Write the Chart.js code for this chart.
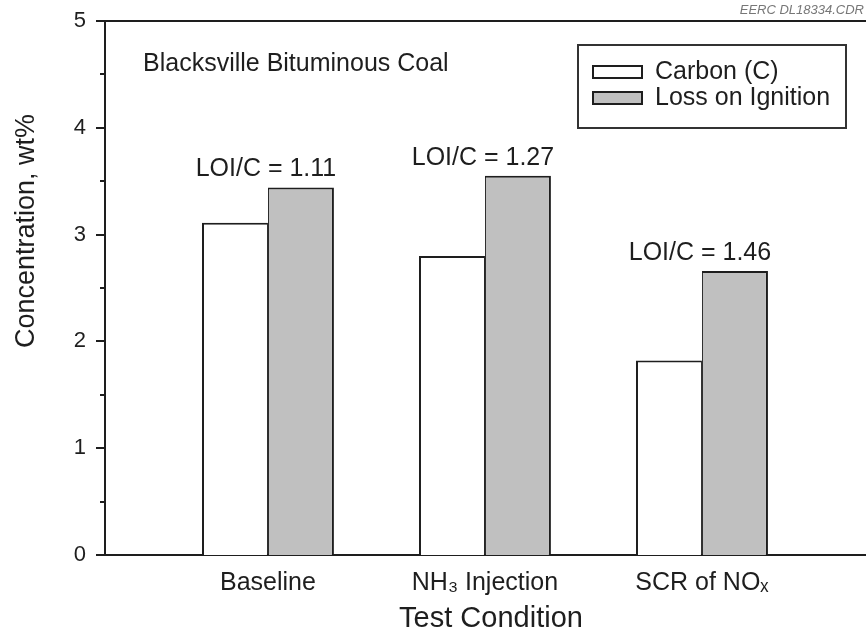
<!DOCTYPE html>
<html>
<head>
<meta charset="utf-8">
<script src="https://cdn.jsdelivr.net/npm/chart.js@4"></script>
<style>
  html, body { margin: 0; padding: 0; background: #fff; }
  canvas { display: block; }
</style>
</head>
<body>
<canvas id="myChart" width="866" height="634"></canvas>
<script>
// test conditions and measured concentrations, wt%
var conditions = ['Baseline', 'NH\u2083 Injection', 'SCR of NO\u2093'];
var carbon = [3.11, 2.80, 1.82];
var loi = [3.44, 3.55, 2.66];
var ratioLabels = ['LOI/C = 1.11', 'LOI/C = 1.27', 'LOI/C = 1.46'];
var yTicks = [0, 1, 2, 3, 4, 5];
var yMinorTicks = [0.5, 1.5, 2.5, 3.5, 4.5];

var FONT = '"Liberation Sans", Arial, Helvetica, sans-serif';
var INK = '#1e1e1e';

function points(values) {
    return values.map(function (v, i) { return {x: i, y: v}; });
}

// frame, minor ticks, titles, ratio labels and the boxed legend
var decorations = {
    id: 'decorations',
    afterDraw: function (chart) {
        var c = chart.ctx;
        var area = chart.chartArea;
        var x = chart.scales.x, y = chart.scales.y;
        c.save();
        c.strokeStyle = INK;
        c.lineWidth = 2;

        // top edge of the frame
        c.beginPath();
        c.moveTo(area.left - 1, area.top);
        c.lineTo(area.right, area.top);
        c.stroke();

        // major and minor ticks on the y axis
        c.beginPath();
        yTicks.forEach(function (v) {
            var py = Math.round(y.getPixelForValue(v));
            c.moveTo(area.left - 9, py);
            c.lineTo(area.left, py);
        });
        yMinorTicks.forEach(function (v) {
            var py = Math.round(y.getPixelForValue(v));
            c.moveTo(area.left - 5, py);
            c.lineTo(area.left, py);
        });
        c.stroke();

        c.fillStyle = INK;
        c.textBaseline = 'middle';

        // axis titles
        c.font = '29px ' + FONT;
        c.textAlign = 'center';
        c.fillText('Test Condition', 491, 619);
        c.font = '27px ' + FONT;
        c.save();
        c.translate(27, 231);
        c.rotate(-Math.PI / 2);
        c.fillText('Concentration, wt%', 0, 0);
        c.restore();

        // coal name
        c.font = '25px ' + FONT;
        c.textAlign = 'left';
        c.fillText('Blacksville Bituminous Coal', 143, 64);

        // LOI/C ratio above each pair
        c.textAlign = 'center';
        ratioLabels.forEach(function (t, i) {
            c.fillText(t, x.getPixelForValue(i) - 2, y.getPixelForValue(loi[i]) - 18);
        });

        // legend
        c.strokeStyle = '#333';
        c.lineWidth = 2;
        c.strokeRect(578, 45, 268, 83);
        var entries = [
            {text: 'Carbon (C)', fill: '#ffffff', cy: 72},
            {text: 'Loss on Ignition', fill: '#c0c0c0', cy: 98}
        ];
        c.textAlign = 'left';
        entries.forEach(function (e) {
            c.fillStyle = e.fill;
            c.fillRect(593, e.cy - 6, 49, 12);
            c.strokeStyle = INK;
            c.strokeRect(593, e.cy - 6, 49, 12);
            c.fillStyle = INK;
            c.fillText(e.text, 655, e.cy);
        });

        // drawing reference in the corner
        c.font = 'italic 13px ' + FONT;
        c.fillStyle = '#777';
        c.textAlign = 'right';
        c.fillText('EERC DL18334.CDR', 864, 10);
        c.restore();
    }
};

var ctx = document.getElementById('myChart').getContext('2d');
var myChart = new Chart(ctx, {
    type: 'bar',
    data: {
        datasets: [{
            label: 'Carbon (C)',
            data: points(carbon),
            backgroundColor: '#ffffff',
            borderColor: INK,
            borderWidth: {left: 2, top: 2, right: 1, bottom: 0},
            borderSkipped: false
        }, {
            label: 'Loss on Ignition',
            data: points(loi),
            backgroundColor: '#c0c0c0',
            borderColor: INK,
            borderWidth: {left: 1, top: 2, right: 2, bottom: 0},
            borderSkipped: false
        }]
    },
    options: {
        responsive: false,
        devicePixelRatio: 1,
        animation: false,
        categoryPercentage: 0.608,
        barPercentage: 1.0,
        layout: {padding: {top: 21, left: 0, right: 0, bottom: 0}},
        scales: {
            x: {
                type: 'linear',
                offset: false,
                min: -0.751,
                max: 2.756,
                afterBuildTicks: function (scale) {
                    scale.ticks = conditions.map(function (_, i) { return {value: i}; });
                },
                afterFit: function (scale) { scale.height = 79; },
                grid: {display: false, drawTicks: false, offset: false},
                border: {display: true, color: INK, width: 2},
                ticks: {
                    callback: function (v) { return conditions[v]; },
                    font: {family: FONT, size: 25},
                    color: INK,
                    padding: 13,
                    maxRotation: 0,
                    autoSkip: false
                }
            },
            y: {
                min: 0,
                max: 5,
                afterBuildTicks: function (scale) {
                    scale.ticks = yTicks.map(function (v) { return {value: v}; });
                },
                afterFit: function (scale) {
                    scale.width = 105;
                    // keep the frame top fixed by the layout padding alone
                    scale.paddingTop = 0;
                    scale.paddingBottom = 0;
                },
                grid: {display: false, drawTicks: false},
                border: {display: true, color: INK, width: 2},
                ticks: {
                    font: {family: FONT, size: 22},
                    color: INK,
                    padding: 19
                }
            }
        },
        plugins: {
            legend: {display: false},
            tooltip: {enabled: false}
        }
    },
    plugins: [decorations]
});
</script>
</body>
</html>
